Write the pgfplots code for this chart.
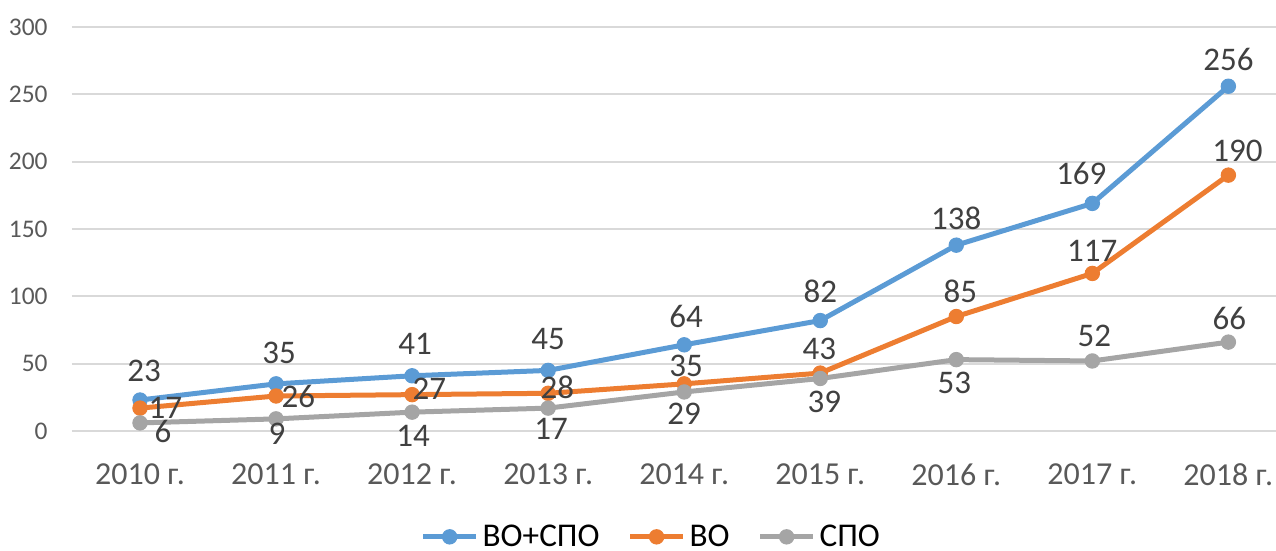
\documentclass[border=0pt]{standalone}
\usepackage{pgfplots}
\pgfplotsset{compat=1.18}
\usepackage{fontspec}
\setmainfont{Carlito}
\definecolor{cblue}{HTML}{5B9BD5}
\definecolor{corange}{HTML}{ED7D31}
\definecolor{cgray}{HTML}{A5A5A5}
\definecolor{gridc}{HTML}{D9D9D9}
\definecolor{ticktxt}{HTML}{595959}
\definecolor{labtxt}{HTML}{404040}

\pgfplotsset{
  mylab/.style={
    nodes near coords,
    visualization depends on={value \thisrow{anc}\as\anc},
    visualization depends on={\thisrow{dx}\as\dx},
    visualization depends on={\thisrow{dy}\as\dy},
    every node near coord/.append style={anchor=\anc, xshift=\dx pt, yshift=\dy pt,
      inner sep=0pt, font=\fontsize{16.5}{19}\selectfont, text=labtxt},
  },
  myline/.style={line width=2.5pt, line join=round, mark=*, mark size=3.6pt,
    mark options={solid, line width=0.5pt}},
}

\begin{document}
\begin{tikzpicture}
\path[use as bounding box] (-36pt,-60pt) rectangle (602pt,215.5pt);
\begin{axis}[
  at={(0,0)}, anchor=south west,
  scale only axis, width=602pt, height=202pt,
  xmin=-0.5, xmax=8.35, ymin=0, ymax=300,
  ytick={0,50,...,300},
  xtick={0,...,8},
  xticklabels={2010 г., 2011 г., 2012 г., 2013 г., 2014 г., 2015 г., 2016 г., 2017 г., 2018 г.},
  axis line style={draw=none},
  major tick length=0pt,
  ymajorgrids, grid style={draw=gridc, line width=1pt},
  yticklabel style={font=\fontsize{12.7}{15}\selectfont, text=ticktxt, inner sep=0pt, xshift=-12pt},
  xticklabel style={font=\fontsize{16}{19}\selectfont, text=ticktxt, inner sep=0pt, yshift=-16pt},
  /pgf/number format/assume math mode=true,
  clip=false,
  legend columns=-1,
  legend style={at={(0.482,-0.262)}, anchor=center, draw=none, fill=none,
    font=\fontsize{16.6}{19}\selectfont, text=black,
    /tikz/every even column/.append style={column sep=12pt},
    nodes={inner xsep=2pt, inner ysep=0pt}},
  legend image code/.code={\draw[mark repeat=2,mark phase=2] plot coordinates {(0pt,0pt)(13.25pt,0pt)(26.5pt,0pt)};},
]
\addplot[cblue, myline, mylab, forget plot] table[x=x,y=y] {
x y anc dx dy
0 23 south 2 9
1 35 south 1.5 10
2 41 south 1.5 10.5
3 45 south 0 10
4 64 south 1 8.5
5 82 south 0 8.5
6 138 south 0 7.5
7 169 south -5.5 9
8 256 south 0 7.5
};
\addplot[corange, myline, mylab, forget plot] table[x=x,y=y] {
x y anc dx dy
0 17 west 4 0
1 26 west 2.5 0
2 27 west 0 3
3 28 west -4 3
4 35 south 1 3.5
5 43 south -0.5 6.5
6 85 south 2 6.5
7 117 south 0 5.5
8 190 south 4.5 6.5
};
\addplot[cgray, myline, mylab, forget plot] table[x=x,y=y] {
x y anc dx dy
0 6 north 11.5 1.5
1 9 north 0.5 -2
2 14 north 0.5 -6.5
3 17 north 1.5 -5
4 29 north 0 -5.5
5 39 north 2 -6
6 53 north -1 -6
7 52 south 1 7
8 66 south 0.5 6
};
\addlegendimage{cblue, myline}
\addlegendentry{ВО+СПО}
\addlegendimage{corange, myline}
\addlegendentry{ВО}
\addlegendimage{cgray, myline}
\addlegendentry{СПО}
\end{axis}
\end{tikzpicture}
\end{document}
